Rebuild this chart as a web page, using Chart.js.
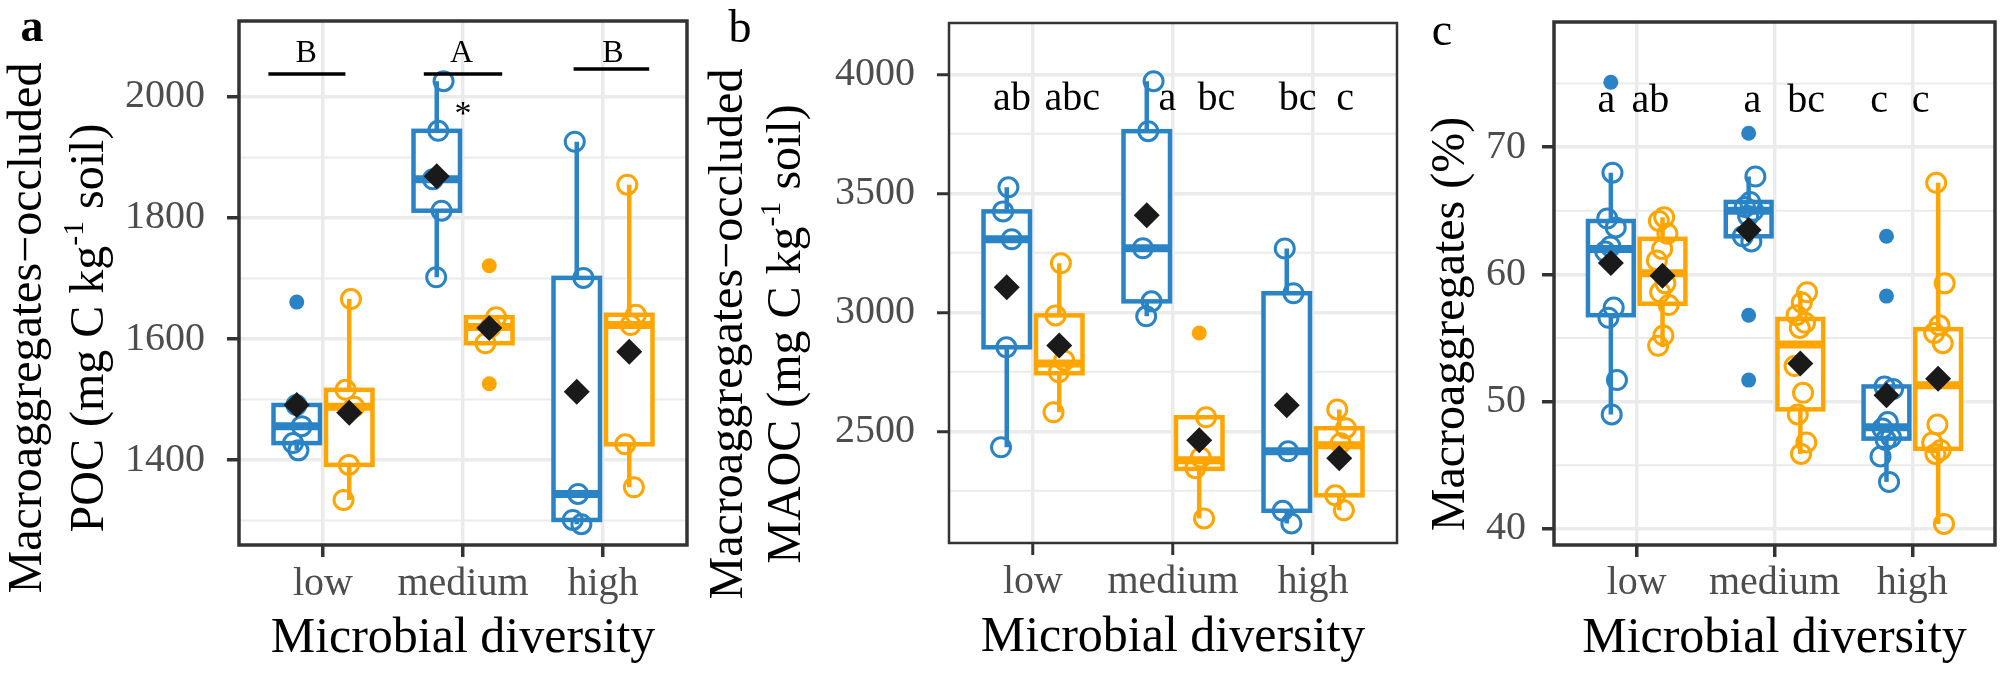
<!DOCTYPE html>
<html><head><meta charset="utf-8">
<script src="https://cdn.jsdelivr.net/npm/chart.js@4.4.1/dist/chart.umd.min.js"></script>
<style>
html,body{margin:0;padding:0;background:#fff;}
#wrap{position:relative;width:2008px;height:674px;overflow:hidden;background:#fff;}
canvas{position:absolute;top:0;}
</style></head><body>
<div id="wrap">
<canvas id="ca" width="700" height="674" style="left:0px"></canvas>
<canvas id="cb" width="710" height="674" style="left:700px"></canvas>
<canvas id="cc" width="598" height="674" style="left:1410px"></canvas>
</div>
<script>
// ---------------- DATA ----------------
const categories = ['low', 'medium', 'high'];

// Panel a : Macroaggregates-occluded POC
const aTicks = [1400, 1600, 1800, 2000];
const aMinorTicks = [1300, 1500, 1700, 1900];
// box stats: [lower whisker, q1, median, q3, upper whisker]
const aBlueBox = [[1416, 1428, 1456, 1491, 1491], [1702, 1812, 1864, 1944, 2026], [1294, 1301, 1344, 1701, 1926]];
const aOrangeBox = [[1334, 1392, 1488, 1516, 1666], [1593, 1593, 1620, 1636, 1636], [1355, 1426, 1623, 1640, 1855]];
const aBlueMean = [1491, 1869, 1513];
const aOrangeMean = [1478, 1618, 1579];
const aBluePoints = [[1416, 1428, 1456, 1491], [2026, 1944, 1864, 1812, 1702], [1926, 1701, 1344, 1301, 1294]];
const aOrangePoints = [[1666, 1516, 1488, 1392, 1334], [1636, 1620, 1593], [1855, 1640, 1623, 1426, 1355]];
const aBlueOutliers = [[1661], [], []];
const aOrangeOutliers = [[], [1721, 1526], []];
const aLetters = ['B', 'A', 'B'];
const aStar = '*';

// Panel b : Macroaggregates-occluded MAOC
const bTicks = [2500, 3000, 3500, 4000];
const bMinorTicks = [2250, 2750, 3250, 3750];
const bBlueBox = [[2433, 2853, 3307, 3424, 3525], [2983, 3046, 3269, 3761, 3971], [2113, 2166, 2416, 3080, 3268]];
const bOrangeBox = [[2580, 2744, 2785, 2987, 3206], [2134, 2342, 2378, 2559, 2559], [2168, 2231, 2441, 2513, 2592]];
const bBlueMean = [3105, 3408, 2609];
const bOrangeMean = [2861, 2462, 2387];
const bBluePoints = [[3525, 3424, 3307, 2853, 2433], [3971, 3761, 3269, 3046, 2983], [3268, 3080, 2416, 2166, 2113]];
const bOrangePoints = [[3206, 2987, 2798, 2748, 2580], [2559, 2390, 2345, 2134], [2592, 2513, 2450, 2231, 2168]];
const bBlueOutliers = [[], [], []];
const bOrangeOutliers = [[], [2913], []];
const bLetters = ['ab', 'abc', 'a', 'bc', 'bc', 'c'];

// Panel c : Macroaggregates (%)
const cTicks = [40, 50, 60, 70];
const cMinorTicks = [45, 55, 65, 75];
const cBlueBox = [[49.0, 56.8, 62.0, 64.2, 68.0], [62.6, 63.0, 65.0, 65.7, 67.7], [43.7, 47.1, 48.0, 51.2, 51.2]];
const cOrangeBox = [[54.3, 57.7, 60.1, 62.8, 64.5], [45.9, 49.4, 54.5, 56.5, 58.7], [40.4, 46.3, 51.3, 55.7, 67.2]];
const cBlueMean = [60.9, 63.5, 50.5];
const cOrangeMean = [59.9, 53.0, 51.8];
const cBluePoints = [[68.0, 64.4, 63.7, 62.2, 61.8, 57.4, 56.6, 51.7, 49.0], [67.7, 65.7, 65.3, 65.0, 64.6, 63.0, 62.6], [51.2, 51.0, 48.4, 47.9, 47.2, 47.0, 45.7, 43.7]];
const cOrangePoints = [[64.5, 64.2, 63.2, 62.0, 61.1, 59.3, 58.6, 57.6, 55.2, 54.4], [58.6, 57.8, 56.8, 56.2, 55.8, 52.8, 50.7, 49.0, 46.8, 45.9], [67.2, 59.3, 56.0, 55.4, 54.6, 48.2, 46.8, 46.2, 45.9, 40.4]];
const cBlueOutliers = [[75.1], [71.1, 56.8, 51.7], [63.0, 58.3]];
const cOrangeOutliers = [[], [], []];
const cLetters = ['a', 'ab', 'a', 'bc', 'c', 'c'];

// ---------------- STYLE ----------------
const SERIF = '"Liberation Serif", "DejaVu Serif", serif';
const BLUE = '#2a83c4';
const ORANGE = '#ffa500';
const DARK = '#1a1a1a';
const GRID = '#ebebeb';
const DODGE = 0.1875;
const HALF = 0.166;

function jit(k, i) {
  return (((k + 1) * 0.6180339887 + i * 0.37) % 1 - 0.5) * 0.1;
}
function ptsData(groups, side, jitter) {
  const out = [];
  groups.forEach((vals, i) => vals.forEach((v, k) => out.push({x: i + side * DODGE + (jitter ? jit(k, i) : 0), y: v})));
  return out;
}
function meanData(vals, side) { return vals.map((v, i) => ({x: i + side * DODGE, y: v})); }

const panelPlugin = {
  id: 'panel',
  beforeDatasetsDraw(chart) {
    const o = chart.options.plugins.panel;
    const {ctx, chartArea: ca, scales: {x, y}} = chart;
    ctx.save();
    ctx.beginPath(); ctx.rect(ca.left, ca.top, ca.width, ca.height); ctx.clip();
    ctx.strokeStyle = GRID; ctx.lineWidth = 2;
    o.minor.forEach(v => {
      const py = y.getPixelForValue(v);
      ctx.beginPath(); ctx.moveTo(ca.left, py); ctx.lineTo(ca.right, py); ctx.stroke();
    });
    [[o.blueBox, -1, BLUE], [o.orangeBox, 1, ORANGE]].forEach(([boxes, side, col]) => {
      boxes.forEach((b, i) => {
        const c = i + side * DODGE;
        const cx = x.getPixelForValue(c);
        const xl = x.getPixelForValue(c - HALF), xr = x.getPixelForValue(c + HALF);
        const [lo, q1, med, q3, hi] = b.map(v => y.getPixelForValue(v));
        ctx.strokeStyle = col; ctx.lineWidth = 4.5; ctx.lineCap = 'butt';
        ctx.beginPath(); ctx.moveTo(cx, q3); ctx.lineTo(cx, hi); ctx.moveTo(cx, q1); ctx.lineTo(cx, lo); ctx.stroke();
        ctx.fillStyle = '#ffffff'; ctx.fillRect(xl, q3, xr - xl, q1 - q3);
        ctx.strokeRect(xl, q3, xr - xl, q1 - q3);
        ctx.lineWidth = 8;
        ctx.beginPath(); ctx.moveTo(xl, med); ctx.lineTo(xr, med); ctx.stroke();
      });
    });
    ctx.restore();
  },
  afterDatasetsDraw(chart) {
    const o = chart.options.plugins.panel;
    const {ctx, chartArea: ca, scales: {x, y}} = chart;
    ctx.save();
    ctx.strokeStyle = '#333333'; ctx.lineWidth = o.borderW;
    ctx.strokeRect(ca.left, ca.top, ca.width, ca.height);
    ctx.fillStyle = '#000'; ctx.textAlign = 'center'; ctx.textBaseline = 'alphabetic';
    ctx.font = o.letterSize + 'px ' + SERIF;
    o.letters.forEach((t, i) => {
      ctx.fillText(t, x.getPixelForValue(o.letterX[i]), y.getPixelForValue(o.letterY));
    });
    if (o.bars) {
      ctx.strokeStyle = '#000'; ctx.lineWidth = 3.5;
      o.bars.forEach(b => {
        const py = y.getPixelForValue(b[2]);
        ctx.beginPath(); ctx.moveTo(x.getPixelForValue(b[0]), py); ctx.lineTo(x.getPixelForValue(b[1]), py); ctx.stroke();
      });
    }
    if (o.star) {
      ctx.font = '34px ' + SERIF;
      ctx.fillText(o.star[0], x.getPixelForValue(o.star[1]), y.getPixelForValue(o.star[2]));
    }
    ctx.restore();
  },
  afterDraw(chart) {
    const o = chart.options.plugins.panel;
    const {ctx, chartArea: ca} = chart;
    ctx.save();
    ctx.fillStyle = '#000';
    // x title
    ctx.font = '50px ' + SERIF; ctx.textAlign = 'center'; ctx.textBaseline = 'alphabetic';
    ctx.fillText('Microbial diversity', (ca.left + ca.right) / 2, o.xTitleBase);
    // panel tag
    ctx.font = (o.tag.bold ? 'bold ' : '') + '46px ' + SERIF; ctx.textAlign = 'center';
    ctx.fillText(o.tag.text, o.tag.x, o.tag.y);
    // y title lines (rotated, rich text)
    o.yTitle.forEach(line => {
      const S = 48;
      ctx.save();
      ctx.translate(line.x, line.y);
      ctx.rotate(-Math.PI / 2);
      ctx.textAlign = 'left'; ctx.textBaseline = 'alphabetic';
      let total = 0;
      line.segs.forEach(sg => { ctx.font = (sg.sup ? S * 0.62 : S) + 'px ' + SERIF; total += ctx.measureText(sg.t).width; });
      let px = -total / 2;
      const base = 0.26 * S;
      line.segs.forEach(sg => {
        ctx.font = (sg.sup ? S * 0.62 : S) + 'px ' + SERIF;
        ctx.fillText(sg.t, px, sg.sup ? base - 0.42 * S : base);
        px += ctx.measureText(sg.t).width;
      });
      ctx.restore();
    });
    ctx.restore();
  }
};

function makeChart(id, d, L) {
  const datasets = [
    {label: 'mean blue', data: meanData(d.blueMean, -1), order: 0, pointStyle: 'rectRot', pointRadius: 13, backgroundColor: DARK, borderWidth: 0},
    {label: 'mean orange', data: meanData(d.orangeMean, 1), order: 0, pointStyle: 'rectRot', pointRadius: 13, backgroundColor: DARK, borderWidth: 0},
    {label: 'pts blue', data: ptsData(d.bluePts, -1, true), order: 1, pointStyle: 'circle', pointRadius: 9.5, borderWidth: 3, borderColor: BLUE, backgroundColor: 'rgba(0,0,0,0)'},
    {label: 'pts orange', data: ptsData(d.orangePts, 1, true), order: 1, pointStyle: 'circle', pointRadius: 9.5, borderWidth: 3, borderColor: ORANGE, backgroundColor: 'rgba(0,0,0,0)'},
    {label: 'out blue', data: ptsData(d.blueOut, -1, false), order: 2, pointStyle: 'circle', pointRadius: 7.5, borderWidth: 0, backgroundColor: BLUE},
    {label: 'out orange', data: ptsData(d.orangeOut, 1, false), order: 2, pointStyle: 'circle', pointRadius: 7.5, borderWidth: 0, backgroundColor: ORANGE}
  ];
  return new Chart(document.getElementById(id), {
    type: 'scatter',
    data: {datasets},
    plugins: [panelPlugin],
    options: {
      responsive: false, animation: false, devicePixelRatio: 1, events: [],
      layout: {padding: {top: L.padTop, right: L.padRight, left: 0, bottom: 0}},
      elements: {point: {hoverRadius: 0}},
      plugins: {
        legend: {display: false}, tooltip: {enabled: false},
        panel: {
          minor: d.minor, blueBox: d.blueBox, orangeBox: d.orangeBox,
          borderW: L.borderW, letters: d.letters, letterX: L.letterX, letterY: L.letterY, letterSize: L.letterSize,
          bars: L.bars, star: L.star, xTitleBase: L.xTitleBase, tag: L.tag, yTitle: L.yTitle
        }
      },
      scales: {
        x: {
          type: 'linear', min: -0.6, max: 2.6,
          afterBuildTicks: s => { s.ticks = categories.map((c, i) => ({value: i})); },
          afterFit: s => { s.height = L.xHeight; s.paddingLeft = 0; s.paddingRight = 0; },
          ticks: {callback: (v, i) => categories[i], font: {family: SERIF, size: 40, lineHeight: 1.2}, color: '#4d4d4d', padding: L.xTickPad, maxRotation: 0, minRotation: 0, autoSkip: false},
          grid: {color: GRID, lineWidth: 3.5, drawTicks: true, tickLength: 12, tickWidth: L.tickW, tickColor: '#333333'},
          border: {display: false}
        },
        y: {
          type: 'linear', min: d.yMin, max: d.yMax,
          afterBuildTicks: s => { s.ticks = d.ticks.map(v => ({value: v})); },
          afterFit: s => { s.width = L.yWidth; s.paddingTop = 0; s.paddingBottom = 0; },
          ticks: {callback: v => String(v), font: {family: SERIF, size: 40, lineHeight: 1.0}, color: '#4d4d4d', padding: L.yTickPad},
          grid: {color: GRID, lineWidth: 3.5, drawTicks: true, tickLength: 12, tickWidth: L.tickW, tickColor: '#333333'},
          border: {display: false}
        }
      }
    }
  });
}

makeChart('ca', {
  ticks: aTicks, minor: aMinorTicks, yMin: 1259.6, yMax: 2125.5,
  blueBox: aBlueBox, orangeBox: aOrangeBox, blueMean: aBlueMean, orangeMean: aOrangeMean,
  bluePts: aBluePoints, orangePts: aOrangePoints, blueOut: aBlueOutliers, orangeOut: aOrangeOutliers,
  letters: aLetters
}, {
  padTop: 21, padRight: 13, yWidth: 239, xHeight: 129, xTickPad: 3, yTickPad: 22, tickW: 3.5, borderW: 3.5,
  letterX: [-0.12, 0.99, 2.07], letterY: 2058, letterSize: 32,
  bars: [[-0.39, 0.16, 2038], [0.72, 1.28, 2038], [1.79, 2.33, 2046]],
  star: [aStar, 1.0, 1955],
  xTitleBase: 652,
  tag: {text: 'a', x: 32, y: 41, bold: true},
  yTitle: [
    {x: 29, y: 328, segs: [{t: 'Macroaggregates\u2212occluded'}]},
    {x: 91, y: 328, segs: [{t: 'POC (mg C kg'}, {t: '-1', sup: true}, {t: ' soil)'}]}
  ]
});

makeChart('cb', {
  ticks: bTicks, minor: bMinorTicks, yMin: 2030.7, yMax: 4215.5,
  blueBox: bBlueBox, orangeBox: bOrangeBox, blueMean: bBlueMean, orangeMean: bOrangeMean,
  bluePts: bBluePoints, orangePts: bOrangePoints, blueOut: bBlueOutliers, orangeOut: bOrangeOutliers,
  letters: bLetters
}, {
  padTop: 23, padRight: 13, yWidth: 249, xHeight: 131, xTickPad: 3, yTickPad: 22, tickW: 3, borderW: 2.5,
  letterX: [-0.15, 0.28, 0.96, 1.31, 1.89, 2.23], letterY: 3849, letterSize: 40,
  bars: null, star: null,
  xTitleBase: 651,
  tag: {text: 'b', x: 40, y: 42, bold: false},
  yTitle: [
    {x: 30, y: 334, segs: [{t: 'Macroaggregates\u2212occluded'}]},
    {x: 88, y: 334, segs: [{t: 'MAOC (mg C kg'}, {t: '-1', sup: true}, {t: ' soil)'}]}
  ]
});

makeChart('cc', {
  ticks: cTicks, minor: cMinorTicks, yMin: 38.74, yMax: 79.84,
  blueBox: cBlueBox, orangeBox: cOrangeBox, blueMean: cBlueMean, orangeMean: cOrangeMean,
  bluePts: cBluePoints, orangePts: cOrangePoints, blueOut: cBlueOutliers, orangeOut: cOrangeOutliers,
  letters: cLetters
}, {
  padTop: 22, padRight: 6, yWidth: 144, xHeight: 129, xTickPad: 2, yTickPad: 16, tickW: 3.5, borderW: 3.5,
  letterX: [-0.22, 0.10, 0.84, 1.23, 1.76, 2.06], letterY: 72.8, letterSize: 40,
  bars: null, star: null,
  xTitleBase: 652,
  tag: {text: 'c', x: 32, y: 45, bold: false},
  yTitle: [
    {x: 42, y: 324, segs: [{t: 'Macroaggregates (%)'}]}
  ]
});
</script>
</body></html>
